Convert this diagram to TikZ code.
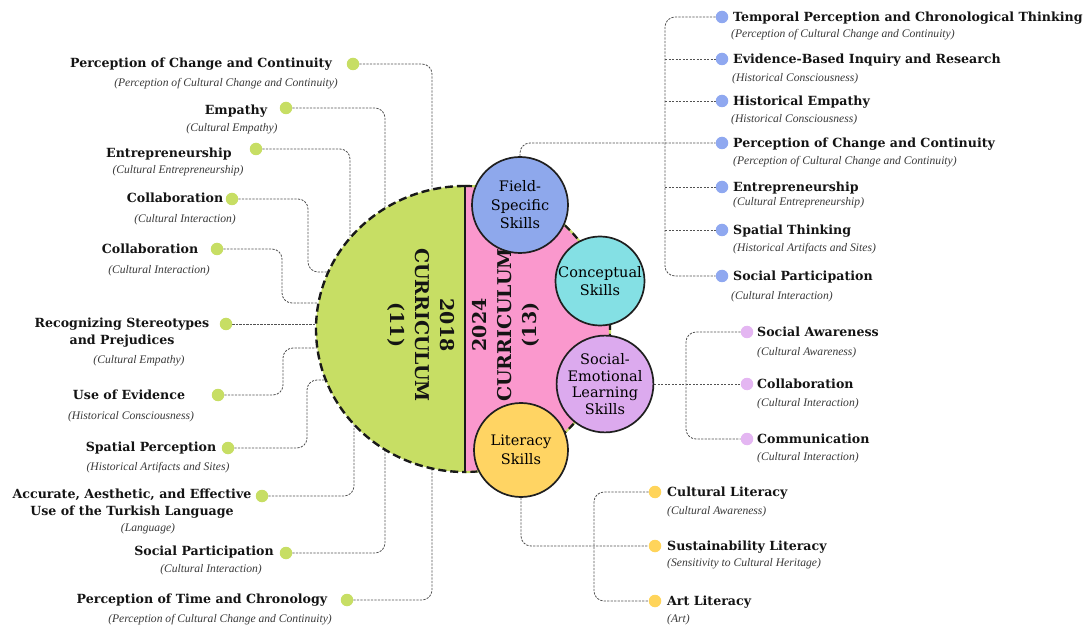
\documentclass[tikz,border=0pt]{standalone}
\usepackage{fontspec}
\setmainfont{DejaVu Serif}
\newfontfamily\subfont{Liberation Serif}
\usetikzlibrary{calc}
\pgfdeclarelayer{bg}
\pgfsetlayers{bg,main}
\definecolor{cgreen}{RGB}{199,222,100}
\definecolor{cpink}{RGB}{250,152,205}
\definecolor{cblue}{RGB}{142,168,236}
\definecolor{ccyan}{RGB}{132,224,228}
\definecolor{cviolet}{RGB}{220,170,238}
\definecolor{cyellow}{RGB}{255,212,99}
\definecolor{dblue}{RGB}{143,168,240}
\definecolor{dviolet}{RGB}{228,182,242}
\definecolor{dyellow}{RGB}{255,212,90}
\begin{document}
\begin{tikzpicture}[x=1pt,y=-1pt,
  lbl/.style={font=\bfseries\fontsize{12.6}{17}\selectfont, inner sep=0pt, text=black!92, text height=9.3pt, text depth=0pt},
  lbltwo/.style={font=\bfseries\fontsize{12.6}{17}\selectfont, inner sep=0pt, text=black!92, align=center},
  sub/.style={font=\subfont\itshape\fontsize{11.6}{13}\selectfont, inner sep=0pt, text=black!78, text height=7.8pt, text depth=0pt},
  dot/.style={circle, inner sep=0pt, minimum size=12.5pt},
  gdot/.style={dot, fill=cgreen},
  bdot/.style={dot, fill=dblue},
  vdot/.style={dot, fill=dviolet},
  ydot/.style={dot, fill=dyellow},
  conn/.style={draw=black!68, dash pattern=on 2.2pt off 1.3pt, line width=0.85pt, rounded corners=10pt},
  skill/.style={circle, draw=black!88, line width=1.7pt, inner sep=0pt, align=center, text=black, font=\fontsize{14.5}{18.5}\selectfont},
  curr/.style={font=\bfseries\fontsize{19}{25}\selectfont, align=center, inner sep=0pt, text=black!92}]
\useasboundingbox (0,0) rectangle (1090,628);

% ---------- central halves ----------
\fill[cpink] (465,186) arc[start angle=-90, end angle=90, x radius=145, y radius=143] -- cycle;
\draw[cgreen, line width=2.2pt] (465,186) arc[start angle=-90, end angle=90, x radius=145, y radius=143];
\draw[black!90, line width=2.2pt, dash pattern=on 7pt off 4pt] (465,186) arc[start angle=-90, end angle=90, x radius=145, y radius=143];
\fill[cgreen] (465,186) arc[start angle=-90, end angle=-270, x radius=149, y radius=143] -- cycle;
\draw[black!90, line width=2.4pt, dash pattern=on 8pt off 4pt] (465,186) arc[start angle=-90, end angle=-270, x radius=149, y radius=143];
\draw[black!90, line width=2pt] (465,186) -- (465,472);

\node[curr, rotate=-90] (c18) at (421,325) {2018\\CURRICULUM\\(11)};
\node[curr, rotate=90] (c24) at (506,325) {2024\\CURRICULUM\\(13)};

% ---------- skill circles ----------
\node[skill, fill=cblue, minimum size=96pt] (fs) at (520,205) {Field-\\Specific\\Skills};
\node[skill, fill=ccyan, minimum size=89pt] (cs) at (600,281) {Conceptual\\Skills};
\node[skill, fill=cviolet, minimum size=94pt, font=\fontsize{14.5}{16.8}\selectfont] (se) at (605,384) {Social-\\Emotional\\Learning\\Skills};
\node[skill, fill=cyellow, minimum size=94pt] (ls) at (521,450) {Literacy\\Skills};

% ---------- arc end points (2018 side) ----------
\coordinate (e1) at (432,190);
\coordinate (e2) at (385,208);
\coordinate (e3) at (350,238);
\coordinate (e4) at (328,272);
\coordinate (e5) at (318,303);
\coordinate (e6) at (316,324);
\coordinate (e7) at (317,348);
\coordinate (e8) at (326,380);
\coordinate (e9) at (354,424);
\coordinate (e10) at (385,450);
\coordinate (e11) at (432,468);

% ---------- 2018 items ----------
\node[lbl] (l1) at (201,63) {Perception of Change and Continuity};
\node[sub] (s1) at (226,83) {(Perception of Cultural Change and Continuity)};
\node[gdot] (d1) at (353,64) {};

\node[lbl] (l2) at (236,110) {Empathy};
\node[sub] (s2) at (232,128) {(Cultural Empathy)};
\node[gdot] (d2) at (286,108) {};

\node[lbl] (l3) at (169,153) {Entrepreneurship};
\node[sub] (s3) at (178,170) {(Cultural Entrepreneurship)};
\node[gdot] (d3) at (256,149) {};

\node[lbl] (l4) at (175,198) {Collaboration};
\node[sub] (s4) at (185,219) {(Cultural Interaction)};
\node[gdot] (d4) at (232,199) {};

\node[lbl] (l5) at (150,249) {Collaboration};
\node[sub] (s5) at (159,270) {(Cultural Interaction)};
\node[gdot] (d5) at (217,249) {};

\node[lbltwo] (l6) at (122,333) {Recognizing Stereotypes\\and Prejudices};
\node[sub] (s6) at (139,360) {(Cultural Empathy)};
\node[gdot] (d6) at (226,324) {};

\node[lbl] (l7) at (129,395) {Use of Evidence};
\node[sub] (s7) at (131,416) {(Historical Consciousness)};
\node[gdot] (d7) at (218,395) {};

\node[lbl] (l8) at (151,447) {Spatial Perception};
\node[sub] (s8) at (158,467) {(Historical Artifacts and Sites)};
\node[gdot] (d8) at (228,448) {};

\node[lbltwo] (l9) at (132,504) {Accurate, Aesthetic, and Effective\\Use of the Turkish Language};
\node[sub] (s9) at (148,528) {(Language)};
\node[gdot] (d9) at (262,496) {};

\node[lbl] (l10) at (204,551) {Social Participation};
\node[sub] (s10) at (211,569) {(Cultural Interaction)};
\node[gdot] (d10) at (286,553) {};

\node[lbl] (l11) at (202,599) {Perception of Time and Chronology};
\node[sub] (s11) at (220,619) {(Perception of Cultural Change and Continuity)};
\node[gdot] (d11) at (347,600) {};

% ---------- field-specific items ----------
\node[bdot] (b1) at (722,17) {};
\node[bdot] (b2) at (722,59) {};
\node[bdot] (b3) at (722,101) {};
\node[bdot] (b4) at (722,143) {};
\node[bdot] (b5) at (722,187) {};
\node[bdot] (b6) at (722,230) {};
\node[bdot] (b7) at (722,276) {};
\node[lbl, anchor=west] (bl1) at (733,17) {Temporal Perception and Chronological Thinking};
\node[sub, anchor=west] (bs1) at (731,34) {(Perception of Cultural Change and Continuity)};
\node[lbl, anchor=west] (bl2) at (733,59) {Evidence-Based Inquiry and Research};
\node[sub, anchor=west] (bs2) at (732,78) {(Historical Consciousness)};
\node[lbl, anchor=west] (bl3) at (733,101) {Historical Empathy};
\node[sub, anchor=west] (bs3) at (731,119) {(Historical Consciousness)};
\node[lbl, anchor=west] (bl4) at (733,143) {Perception of Change and Continuity};
\node[sub, anchor=west] (bs4) at (733,161) {(Perception of Cultural Change and Continuity)};
\node[lbl, anchor=west] (bl5) at (733,187) {Entrepreneurship};
\node[sub, anchor=west] (bs5) at (733,202) {(Cultural Entrepreneurship)};
\node[lbl, anchor=west] (bl6) at (733,230) {Spatial Thinking};
\node[sub, anchor=west] (bs6) at (733,248) {(Historical Artifacts and Sites)};
\node[lbl, anchor=west] (bl7) at (733,276) {Social Participation};
\node[sub, anchor=west] (bs7) at (731,296) {(Cultural Interaction)};
\coordinate (tb) at (665,150);

% ---------- social-emotional items ----------
\node[vdot] (p1) at (747,332) {};
\node[vdot] (p2) at (747,384) {};
\node[vdot] (p3) at (747,439) {};
\node[lbl, anchor=west] (pl1) at (757,332) {Social Awareness};
\node[sub, anchor=west] (ps1) at (757,352) {(Cultural Awareness)};
\node[lbl, anchor=west] (pl2) at (757,384) {Collaboration};
\node[sub, anchor=west] (ps2) at (757,403) {(Cultural Interaction)};
\node[lbl, anchor=west] (pl3) at (757,439) {Communication};
\node[sub, anchor=west] (ps3) at (757,457) {(Cultural Interaction)};
\coordinate (tp) at (686,384);

% ---------- literacy items ----------
\node[ydot] (y1) at (655,492) {};
\node[ydot] (y2) at (655,546) {};
\node[ydot] (y3) at (655,601) {};
\node[lbl, anchor=west] (yl1) at (667,492) {Cultural Literacy};
\node[sub, anchor=west] (ys1) at (667,511) {(Cultural Awareness)};
\node[lbl, anchor=west] (yl2) at (667,546) {Sustainability Literacy};
\node[sub, anchor=west] (ys2) at (667,563) {(Sensitivity to Cultural Heritage)};
\node[lbl, anchor=west] (yl3) at (667,601) {Art Literacy};
\node[sub, anchor=west] (ys3) at (667,619) {(Art)};
\coordinate (ty) at (594,546);

% ---------- connectors ----------
\begin{pgfonlayer}{bg}
\draw[conn] (d1) -| (e1);
\draw[conn] (d2) -| (e2);
\draw[conn] (d3) -| (e3);
\draw[conn] (d4) -| ($(e4)+(-20,0)$) -- (e4);
\draw[conn] (d5) -| ($(e5)+(-36,0)$) -- (e5);
\draw[conn] (d6) -- (e6);
\draw[conn] (d7) -| ($(e7)+(-34,0)$) -- (e7);
\draw[conn] (d8) -| ($(e8)+(-19,0)$) -- (e8);
\draw[conn] (d9) -| (e9);
\draw[conn] (d10) -| (e10);
\draw[conn] (d11) -| (e11);

\draw[conn] (fs.north) |- (b4);
\draw[conn] (b1) -| (tb) |- (b7);
\draw[conn] (tb |- b2) -- (b2);
\draw[conn] (tb |- b3) -- (b3);
\draw[conn] (tb |- b5) -- (b5);
\draw[conn] (tb |- b6) -- (b6);

\draw[conn] (se) -- (p2);
\draw[conn] (p1) -| (tp) |- (p3);

\draw[conn] (ls) |- (y2);
\draw[conn] (y1) -| (ty) |- (y3);
\end{pgfonlayer}
\end{tikzpicture}
\end{document}
